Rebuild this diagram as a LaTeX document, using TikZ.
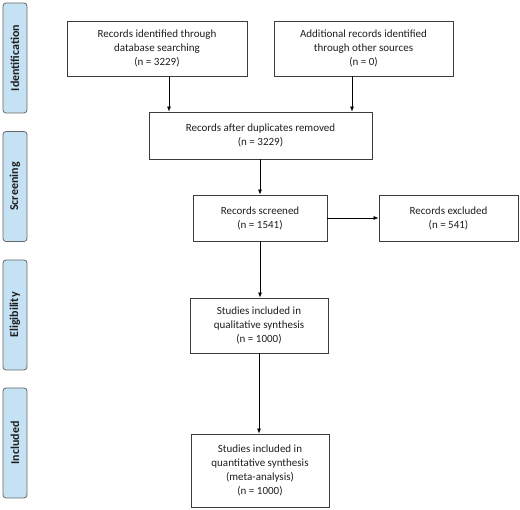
\documentclass[tikz,border=0pt]{standalone}
\usepackage{fontspec}
\setmainfont{Carlito}
\usetikzlibrary{arrows.meta}

\definecolor{phasefill}{RGB}{197,226,245}
\definecolor{boxline}{RGB}{60,60,60}
\definecolor{textgray}{RGB}{30,30,30}

\begin{document}
\begin{tikzpicture}[x=1pt, y=-1pt, align=center, font=\fontsize{11}{14}\selectfont, text=textgray,
	main/.style = {draw=boxline, line width=0.8pt, inner sep=2pt},
	phase/.style = {draw=gray!80!black, line width=0.8pt, fill=phasefill, rounded corners=3pt, rotate=90, minimum width=110pt, minimum height=24pt, font=\fontsize{12}{12}\selectfont\bfseries},
	flow/.style = {-{Latex[length=5pt,width=4pt]}, draw=black, line width=0.7pt}]
	\useasboundingbox (0,0) rectangle (520,510);
	\node[phase] (p1) at (15,58) {Identification};
	\node[phase] (p2) at (15,186.5) {Screening};
	\node[phase] (p3) at (15,315) {Eligibility};
	\node[phase] (p4) at (15,443) {Included};
	\node[main, minimum width=180pt, minimum height=55pt] (1) at (157,48.5) {Records identified through\\database searching\\(n = 3229)};
	\node[main, minimum width=179pt, minimum height=55pt] (2) at (363.5,48.5) {Additional records identified\\through other sources\\(n = 0)};
	\node[main, minimum width=223pt, minimum height=47pt] (3) at (260.5,135.5) {Records after duplicates removed\\(n = 3229)};
	\node[main, minimum width=134pt, minimum height=46pt] (4) at (260,218) {Records screened\\(n = 1541)};
	\node[main, minimum width=139pt, minimum height=46pt] (5) at (448.5,218) {Records excluded\\(n = 541)};
	\node[main, minimum width=138pt, minimum height=55pt] (6) at (259,325.5) {Studies included in\\qualitative synthesis\\(n = 1000)};
	\node[main, minimum width=138pt, minimum height=73pt] (7) at (260,470.5) {Studies included in\\quantitative synthesis\\(meta-analysis)\\(n = 1000)};
	\draw[flow] ([xshift=12pt]1.south) -- ([xshift=12pt]1.south |- 3.north);
	\draw[flow] ([xshift=-11.5pt]2.south) -- ([xshift=-11.5pt]2.south |- 3.north);
	\draw[flow] (3.south -| 4.north) -- (4.north);
	\draw[flow] (4.east) -- (5.west);
	\draw[flow] (4.south) -- (6.north -| 4.south);
	\draw[flow] (6.south) -- (7.north -| 6.south);
\end{tikzpicture}
\end{document}
